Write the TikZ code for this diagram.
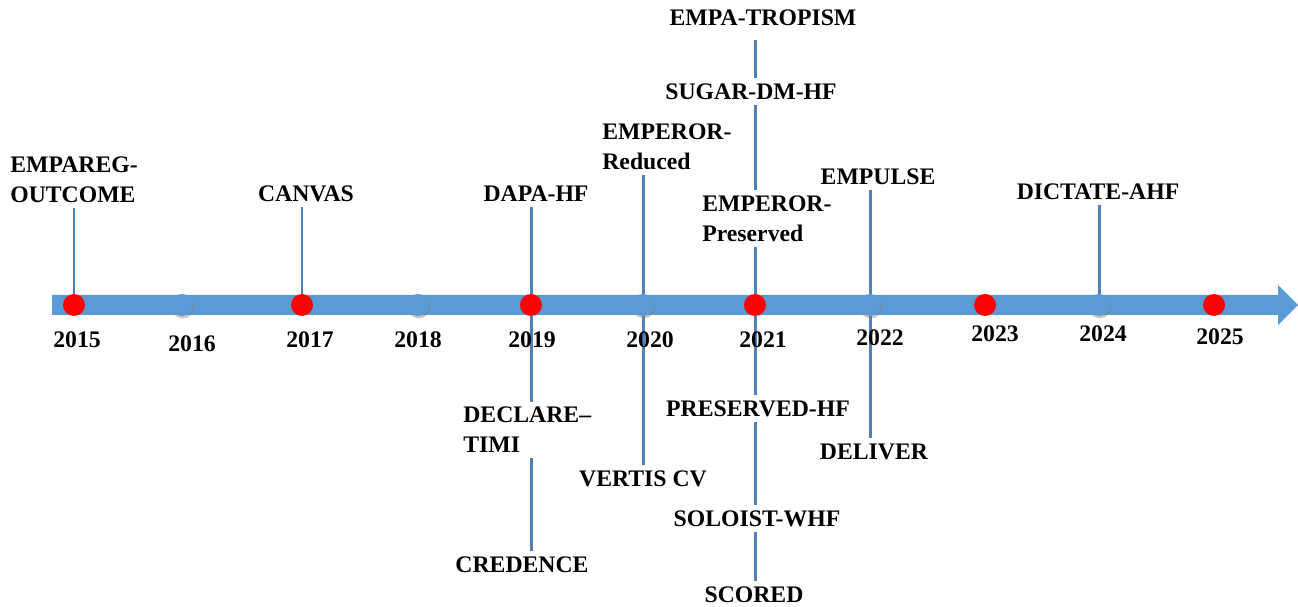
\documentclass[tikz,border=0pt]{standalone}
\usepackage{fontspec}
\setmainfont{Liberation Serif}
\usetikzlibrary{backgrounds,shadows}

\definecolor{barblue}{HTML}{5B9BD5}
\definecolor{stemblue}{HTML}{4F81BD}

\tikzset{
  lbl/.style={font=\bfseries\fontsize{13.5}{17}\selectfont, inner sep=0.1cm},
  trial/.style={lbl, align=center, anchor=south},
  trialL/.style={lbl, align=left, anchor=south west},
  yr/.style={font=\bfseries\fontsize{13.5}{17}\selectfont, inner sep=0pt, anchor=base},
  stem/.style={stemblue, line width=1.7pt},
  reddot/.style={circle, fill=red, minimum size=0.44cm, inner sep=0pt},
  bluedot/.style={circle, fill=barblue, minimum size=0.44cm, inner sep=0pt,
    circular drop shadow={shadow xshift=0.3pt, shadow yshift=-0.9pt, opacity=0.45}}
}

\begin{document}
\begin{tikzpicture}[x=0.02cm, y=-0.02cm]
  \useasboundingbox (0,0) rectangle (1298,607);

  % dots on the time line and the years under them
  \foreach \yr/\x/\xl/\yb/\kind in {15/74/77/348/reddot, 16/182/192/352/bluedot,
      17/302/310/348/reddot, 18/418/418/348/bluedot, 19/531/532/348/reddot,
      20/643/650/348/bluedot, 21/755/763/348/reddot, 22/870/880/346/bluedot,
      23/985/995/342/reddot, 24/1099/1103/342/bluedot, 25/1214/1220/345/reddot} {
    \node[\kind] (d\yr) at (\x,305) {};
    \node[yr] (y\yr) at (\xl,\yb) {20\yr};
  }

  % trials above the line
  \node[trialL] (t15) at (5,208) {EMPAREG-\\OUTCOME};
  \node[trial] (t17) at (306,207) {CANVAS};
  \node[trial] (t19) at (536,207) {DAPA-HF};
  \node[trialL] (t20) at (597,175) {EMPEROR-\\Reduced};
  \node[trial] (t21a) at (763,31) {EMPA-TROPISM};
  \node[trial] (t21b) at (751,105) {SUGAR-DM-HF};
  \node[trialL] (t21c) at (697,247) {EMPEROR-\\Preserved};
  \node[trial] (t22) at (878,190) {EMPULSE};
  \node[trial] (t24) at (1098,205) {DICTATE-AHF};

  % trials below the line
  \node[trialL] (b19a) at (458,458) {DECLARE–\\TIMI};
  \node[trial] (b19b) at (522,578) {CREDENCE};
  \node[trial] (b20) at (643,492) {VERTIS CV};
  \node[trial] (b21a) at (758,422) {PRESERVED-HF};
  \node[trial] (b21b) at (757,532) {SOLOIST-WHF};
  \node[trial] (b21c) at (754,608) {SCORED};
  \node[trial] (b22) at (874,465) {DELIVER};

  \begin{scope}[on background layer]
    % stems
    \draw[stem] (d15) -- (d15 |- t15.south);
    \draw[stem] (d17) -- (d17 |- t17.south);
    \draw[stem] (d19) -- (d19 |- t19.south);
    \draw[stem] (d20) -- (d20 |- t20.south);
    \draw[stem] (d21) -- (d21 |- t21c.south);
    \draw[stem] (d21 |- t21c.north) -- (d21 |- t21b.south);
    \draw[stem, shorten >=5] (d21 |- t21b.north) -- (d21 |- t21a.south);
    \draw[stem] (d22) -- (d22 |- t22.south);
    \draw[stem] (d24) -- (d24 |- t24.south);

    \draw[stem] (d19) -- (d19 |- b19a.north);
    \draw[stem] (d19 |- b19a.south) -- (d19 |- b19b.north);
    \draw[stem] (d20) -- (d20 |- b20.north);
    \draw[stem] (d21) -- (d21 |- b21a.north);
    \draw[stem] (d21 |- b21a.south) -- (d21 |- b21b.north);
    \draw[stem] (d21 |- b21b.south) -- (d21 |- b21c.north);
    \draw[stem] (d22) -- (d22 |- b22.north);

    % the time line
    \fill[barblue] (52,295) -- (1278,295) -- (1278,285) -- (1298,305)
      -- (1278,325) -- (1278,315) -- (52,315) -- cycle;
  \end{scope}
\end{tikzpicture}
\end{document}
